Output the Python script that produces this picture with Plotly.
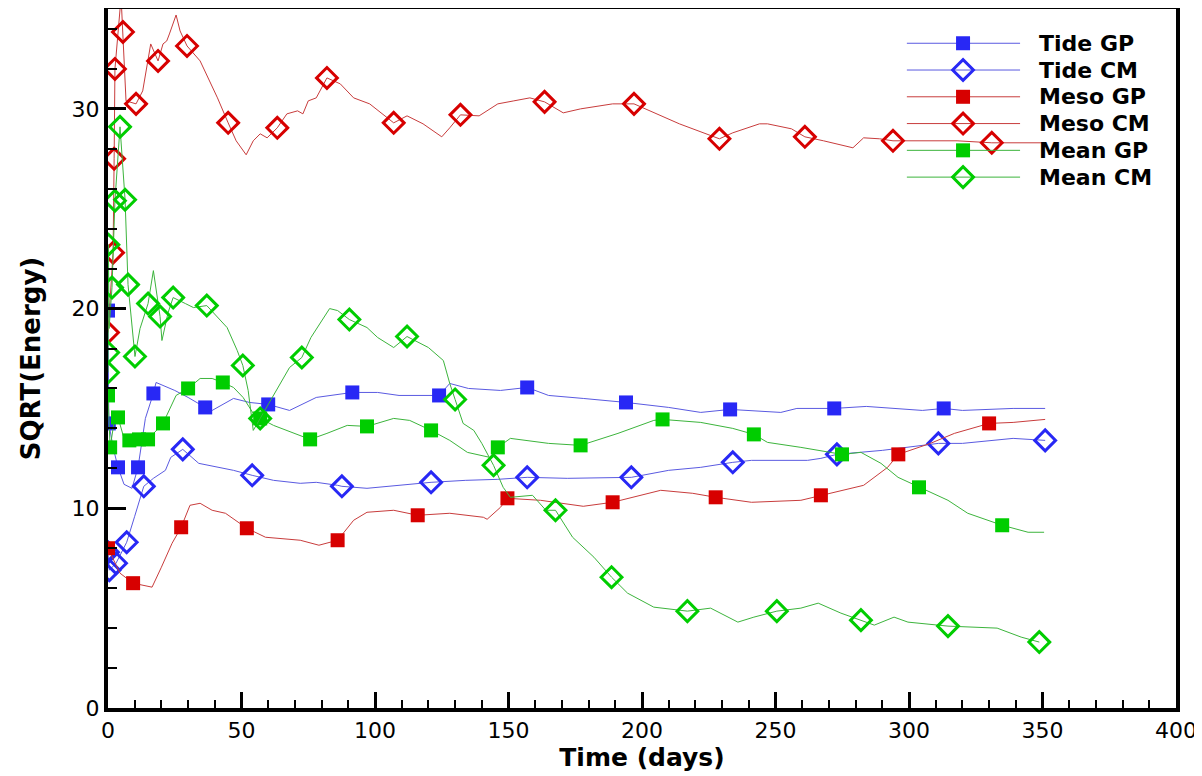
import plotly.graph_objects as go

# ---------------- data ----------------
tide_gp_t = [0, 0.3, 2, 3.75, 6, 9, 11.25, 14, 17, 18, 25, 30, 36.4, 39, 47, 53, 60, 68, 78, 91.5,
             101, 109, 124, 128, 135, 147, 157, 165, 178, 194, 210, 222, 233, 252, 258, 272, 284,
             305, 313, 320, 339, 351]
tide_gp_v = [19.9, 14.25, 13.0, 12.05, 11.2, 11.0, 12.05, 14.5, 15.75, 16.3, 15.9, 15.55, 15.05, 14.9,
             15.5, 15.3, 15.2, 14.9, 15.55, 15.8, 15.8, 15.65, 15.65, 16.25, 16.0, 15.9, 16.05, 15.65,
             15.5, 15.3, 15.05, 14.8, 14.95, 14.8, 15.0, 15.0, 15.1, 14.9, 15.0, 14.9, 15.0, 15.0]
tide_gp_mt = [0, 0.3, 3.75, 11.25, 17, 36.4, 60, 91.5, 124, 157, 194, 233, 272, 313]
tide_gp_mv = [19.9, 14.25, 12.05, 12.05, 15.75, 15.05, 15.2, 15.8, 15.65, 16.05, 15.3, 14.95, 15.0, 15.0]

tide_cm_t = [0, 0.5, 3, 5, 7, 10, 13.4, 17, 21.5, 23.5, 28, 34, 47, 54, 62, 72, 78, 86, 87.6, 97,
             109, 121, 134, 146, 157, 172, 196, 210, 222, 234, 241, 262, 267, 273, 290, 305, 311,
             320, 339, 351]
tide_cm_v = [7.8, 6.9, 7.25, 7.8, 8.3, 9.6, 11.1, 11.5, 11.9, 12.55, 12.95, 12.25, 11.9, 11.65, 11.4,
             11.25, 11.3, 11.15, 11.1, 11.0, 11.15, 11.3, 11.4, 11.45, 11.55, 11.5, 11.55, 11.9, 12.05,
             12.3, 12.4, 12.4, 12.5, 12.7, 12.9, 13.15, 13.25, 13.25, 13.5, 13.4]
tide_cm_mt = [0, 0.5, 3, 7, 13.4, 28, 54, 87.6, 121, 157, 196, 234, 273, 311, 351]
tide_cm_mv = [7.8, 6.9, 7.25, 8.3, 11.1, 12.95, 11.65, 11.1, 11.3, 11.55, 11.55, 12.3, 12.7, 13.25, 13.4]

meso_gp_t = [0, 4.5, 9.4, 16.5, 20, 24, 27.4, 30.7, 34.5, 39, 44, 52, 59, 72, 79, 86, 92, 97, 107,
             116, 128, 140.6, 142, 147, 149.6, 162, 178, 189, 207, 219, 227.6, 241, 259.5, 267,
             274.5, 283, 292, 296, 308, 317, 330, 339, 351]
meso_gp_v = [8.0, 6.75, 6.25, 6.05, 7.05, 8.25, 9.05, 10.15, 10.25, 9.9, 9.75, 9.0, 8.55, 8.4, 8.15,
             8.4, 9.4, 9.8, 9.9, 9.65, 9.75, 9.55, 9.45, 10.05, 10.5, 10.4, 10.1, 10.3, 10.9, 10.75,
             10.55, 10.3, 10.4, 10.65, 10.9, 11.15, 12.05, 12.7, 13.25, 13.75, 14.25, 14.3, 14.45]
meso_gp_mt = [0, 9.4, 27.4, 52, 86, 116, 149.6, 189, 227.6, 267, 296, 330]
meso_gp_mv = [8.0, 6.25, 9.05, 9.0, 8.4, 9.65, 10.5, 10.3, 10.55, 10.65, 12.7, 14.25]

meso_cm_t = [0, 1.9, 2.3, 2.6, 4.9, 5.6, 6.75, 10.5, 13, 16, 17.2, 18.75, 20.6, 22, 23, 25.5, 27,
             29.6, 34.5, 41, 45, 48, 51.75, 54.4, 57, 59.6, 63.4, 67, 71, 73, 75, 78, 82, 87, 92,
             98, 107, 112, 118, 125, 128, 132, 139, 146, 152, 158, 163.5, 170.5, 177, 189, 197,
             214, 229, 234, 244, 247, 256, 261, 268, 279, 283, 289, 294, 309, 318, 331, 347, 351]
meso_cm_v = [18.8, 22.8, 27.5, 32.0, 35.6, 33.85, 30.4, 30.25, 30.9, 33.25, 32.9, 32.4, 33.25, 33.4,
             33.75, 34.7, 33.9, 33.15, 32.4, 30.55, 29.3, 28.4, 27.7, 28.4, 28.75, 28.55, 29.05,
             29.75, 29.9, 29.75, 30.4, 30.55, 31.55, 31.25, 30.55, 30.25, 29.3, 29.65, 29.25, 28.6,
             29.05, 29.7, 29.65, 30.25, 30.4, 30.55, 30.35, 29.8, 30.0, 30.25, 30.25, 29.25, 28.5,
             28.8, 29.25, 29.25, 29.0, 28.6, 28.4, 28.05, 28.55, 28.5, 28.4, 28.4, 28.4, 28.3, 28.3,
             28.3]
meso_cm_mt = [0, 1.9, 2.3, 2.6, 5.6, 10.5, 18.75, 29.6, 45, 63.4, 82, 107, 132, 163.5, 197, 229,
              261, 294, 331]
meso_cm_mv = [18.8, 22.8, 27.5, 32.0, 33.85, 30.25, 32.4, 33.15, 29.3, 29.05, 31.55, 29.3, 29.7,
              30.35, 30.25, 28.5, 28.6, 28.4, 28.3]

mean_gp_t = [0, 0.8, 2.5, 3.75, 6, 8, 11.6, 15, 20.6, 25.5, 30, 34.5, 39, 43, 47, 50.6, 54.4, 57,
             62, 69, 75.7, 82, 89.6, 97, 107, 113, 121, 128, 134.6, 143, 146, 150.7, 165, 177, 191,
             204.4, 207.7, 222, 234, 241.9, 247, 259.5, 269.6, 274.9, 282, 289.5, 295.9, 303.75,
             314.6, 322, 334.9, 344.6, 350.6]
mean_gp_v = [15.65, 13.05, 14.5, 14.55, 13.5, 13.4, 13.45, 13.45, 14.25, 15.65, 16.0, 16.5, 16.5,
             16.3, 16.05, 15.55, 14.75, 14.5, 14.15, 13.8, 13.45, 13.75, 14.15, 14.1, 14.5, 14.4,
             13.9, 13.4, 12.8, 12.55, 13.05, 13.5, 13.25, 13.15, 13.75, 14.4, 14.45, 14.3, 14.0,
             13.7, 13.3, 13.05, 12.8, 12.7, 12.8, 12.25, 11.55, 11.05, 10.4, 9.75, 9.15, 8.8, 8.8]
mean_gp_mt = [0, 0.8, 3.75, 8, 11.6, 15, 20.6, 30, 43, 57, 75.7, 97, 121, 146, 177, 207.7, 241.9,
              274.9, 303.75, 334.9]
mean_gp_mv = [15.65, 13.05, 14.55, 13.4, 13.45, 13.45, 14.25, 16.0, 16.3, 14.5, 13.45, 14.1, 13.9,
              13.05, 13.15, 14.45, 13.7, 12.7, 11.05, 9.15]

mean_cm_t = [0, 0.05, 0.15, 0.4, 1.5, 2.6, 4.5, 6.4, 7.5, 10.1, 12, 15, 17, 19.5, 20.2, 22.5, 24.4,
             29, 32, 37, 44.6, 48.4, 50.5, 52.5, 54.4, 57, 63, 68, 72.6, 76, 83, 86, 90.4, 97, 101,
             107, 112, 120, 125.6, 128, 130, 133, 137, 140, 144.4, 148, 150.7, 159, 164, 167.6, 174,
             182, 188.6, 194.6, 204.4, 217, 225.7, 235.9, 241.9, 250.5, 259.5, 266, 274.5, 282, 287,
             294.4, 299.6, 314.6, 327, 333, 342, 348.8]
mean_cm_v = [16.8, 17.8, 23.2, 19.0, 21.05, 25.4, 29.1, 25.45, 21.2, 17.6, 19.0, 20.25, 21.9, 19.6,
             18.4, 19.8, 20.55, 20.25, 20.05, 20.15, 19.05, 17.9, 17.15, 15.9, 13.9, 14.5, 15.9,
             17.05, 17.55, 18.55, 20.0, 19.9, 19.45, 19.05, 18.55, 18.05, 18.6, 18.05, 17.4, 16.25,
             15.45, 14.25, 13.9, 13.25, 12.15, 11.05, 10.55, 10.65, 9.9, 9.9, 8.55, 7.55, 6.55, 5.75,
             5.05, 4.85, 5.0, 4.3, 4.55, 4.85, 5.0, 5.25, 4.75, 4.4, 4.15, 4.55, 4.3, 4.1, 4.05, 4.0,
             3.55, 3.3]
mean_cm_mt = [0, 0.05, 0.15, 1.5, 2.6, 4.5, 6.4, 7.5, 10.1, 15, 19.5, 24.4, 37, 50.5, 57, 72.6,
              90.4, 112, 130, 144.4, 167.6, 188.6, 217, 250.5, 282, 314.6, 348.8]
mean_cm_mv = [16.8, 17.8, 23.2, 21.05, 25.4, 29.1, 25.45, 21.2, 17.6, 20.25, 19.6, 20.55, 20.15,
              17.15, 14.5, 17.55, 19.45, 18.6, 15.45, 12.15, 9.9, 6.55, 4.85, 4.85, 4.4, 4.1, 3.3]

series_names = ["Tide GP", "Tide CM", "Meso GP", "Meso CM", "Mean GP", "Mean CM"]

x_ticks = [0, 50, 100, 150, 200, 250, 300, 350, 400]
y_ticks = [0, 10, 20, 30]

# ---------------- styles ----------------
BLUE_L, BLUE_M = "rgb(90,90,225)", "rgb(40,40,245)"
RED_L, RED_M = "rgb(200,60,60)", "rgb(215,0,0)"
GREEN_L, GREEN_M = "rgb(60,180,60)", "rgb(0,205,0)"

series = [
    (tide_gp_t, tide_gp_v, tide_gp_mt, tide_gp_mv, BLUE_L, BLUE_M, "square"),
    (tide_cm_t, tide_cm_v, tide_cm_mt, tide_cm_mv, BLUE_L, BLUE_M, "diamond-open"),
    (meso_gp_t, meso_gp_v, meso_gp_mt, meso_gp_mv, RED_L, RED_M, "square"),
    (meso_cm_t, meso_cm_v, meso_cm_mt, meso_cm_mv, RED_L, RED_M, "diamond-open"),
    (mean_gp_t, mean_gp_v, mean_gp_mt, mean_gp_mv, GREEN_L, GREEN_M, "square"),
    (mean_cm_t, mean_cm_v, mean_cm_mt, mean_cm_mv, GREEN_L, GREEN_M, "diamond-open"),
]


def marker_style(col, sym):
    if sym == "square":
        return dict(symbol="square", size=14, color=col, line=dict(width=0))
    return dict(symbol="diamond-open", size=16, color=col, line=dict(width=3, color=col))


FONT = "DejaVu Sans, Liberation Sans, Arial, sans-serif"

fig = go.Figure()
for name, (t, v, mt, mv, lc, mc, sym) in zip(series_names, series):
    fig.add_trace(go.Scatter(x=t, y=v, mode="lines", line=dict(color=lc, width=1),
                             showlegend=False, hoverinfo="skip", name=name))
    fig.add_trace(go.Scatter(x=mt, y=mv, mode="markers", marker=marker_style(mc, sym),
                             showlegend=False, name=name))

# ---- legend drawn inside the plot (Tecplot style), on an overlay axis in plot fractions ----
LEG_X0, LEG_XC, LEG_X1, LEG_TX = 0.748, 0.8006, 0.854, 0.870
LEG_Y0, LEG_DY = 0.951, 0.0383
for i, (name, s) in enumerate(zip(series_names, series)):
    lc, mc, sym = s[4], s[5], s[6]
    yy = LEG_Y0 - i * LEG_DY
    fig.add_trace(go.Scatter(x=[LEG_X0, LEG_X1], y=[yy, yy], mode="lines",
                             line=dict(color=lc, width=1), xaxis="x2", yaxis="y2",
                             showlegend=False, hoverinfo="skip"))
    fig.add_trace(go.Scatter(x=[LEG_XC], y=[yy], mode="markers", marker=marker_style(mc, sym),
                             xaxis="x2", yaxis="y2", showlegend=False, hoverinfo="skip"))
    fig.add_annotation(x=LEG_TX, y=yy, xref="paper", yref="paper", text=name, showarrow=False,
                       xanchor="left", yanchor="middle",
                       font=dict(size=22, family=FONT, color="black", weight="bold"))

fig.update_layout(
    width=1194, height=768,
    margin=dict(l=100, r=26, t=1, b=68),
    paper_bgcolor="white", plot_bgcolor="white",
    font=dict(family=FONT, color="black"),
    showlegend=False,
    xaxis=dict(range=[0, 400], tickvals=x_ticks, ticktext=[str(v) for v in x_ticks],
               showgrid=False, zeroline=False, showline=True, linewidth=4, linecolor="black",
               mirror=True, ticks="inside", ticklen=16, tickwidth=3, tickcolor="black",
               tickfont=dict(size=22, family=FONT), automargin=False,
               minor=dict(dtick=10, ticks="inside", ticklen=8, tickwidth=1.5, tickcolor="black",
                          showgrid=False),
               title=dict(text="Time (days)", font=dict(size=25, family=FONT, weight="bold"),
                          standoff=2)),
    yaxis=dict(range=[0, 35], tickvals=y_ticks, ticktext=[str(v) for v in y_ticks],
               showgrid=False, zeroline=False, showline=True, linewidth=4, linecolor="black",
               mirror=True, ticks="inside", ticklen=18, tickwidth=3, tickcolor="black",
               tickfont=dict(size=22, family=FONT), automargin=False,
               minor=dict(dtick=2, ticks="inside", ticklen=9, tickwidth=1.5, tickcolor="black",
                          showgrid=False),
               title=dict(text="SQRT(Energy)", font=dict(size=26, family=FONT, weight="bold"),
                          standoff=24)),
    xaxis2=dict(range=[0, 1], overlaying="x", visible=False, fixedrange=True),
    yaxis2=dict(range=[0, 1], overlaying="y", visible=False, fixedrange=True),
)

fig.write_html("out.html")
